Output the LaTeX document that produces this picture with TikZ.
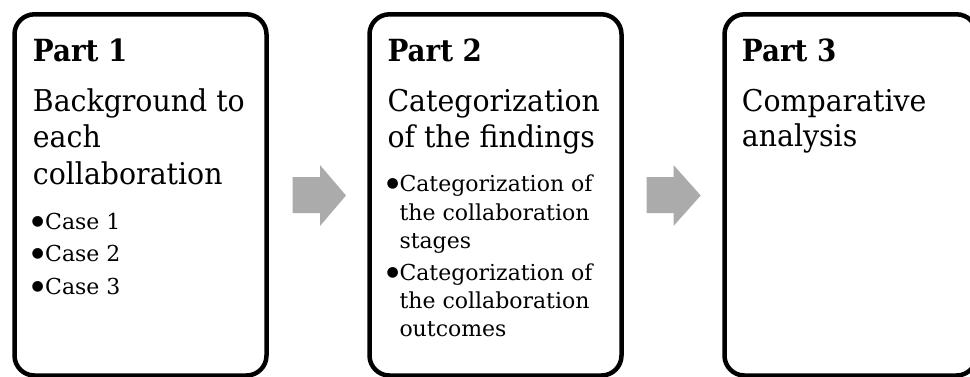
\documentclass[tikz,border=0pt]{standalone}
\usepackage{fontspec}
\setmainfont{DejaVu Serif}
\newfontfamily\bigfont{DejaVu Serif}[FakeStretch=0.946]
\newfontfamily\headfont{DejaVu Serif Bold}[FakeStretch=0.91]
\newfontfamily\symfont{DejaVu Sans}
\definecolor{arrowgray}{RGB}{171,171,171}
\newcommand{\bulletmark}[1]{\makebox[#1][l]{\raisebox{4pt}{\symfont\fontsize{14}{14}\selectfont ●}}}
\tikzset{
  panel/.style={draw=black, line width=4.5pt, rounded corners=20pt},
  flowarrow/.style={fill=arrowgray, draw=none},
  headtxt/.style={anchor=base west, inner sep=0pt, font=\headfont\fontsize{30.5}{36}\selectfont},
  bigtxt/.style={anchor=base west, inner sep=0pt, font=\bigfont\fontsize{30}{36}\selectfont},
  smalltxt/.style={anchor=base west, inner sep=0pt, font=\fontsize{22}{26}\selectfont},
}
\begin{document}
\begin{tikzpicture}[x=1pt,y=-1pt]
\useasboundingbox (0,0) rectangle (970,376);
% panels
\draw[panel] (14.5,14.3) rectangle (266.5,375.5);
\draw[panel] (369.5,14.3) rectangle (621.5,375.5);
\draw[panel] (724.5,14.3) rectangle (976.5,375.5);
% arrows
\fill[flowarrow] (292.7,177) -- (320,177) -- (320,165) -- (346,195.5) -- (320,226) -- (320,213) -- (292.7,213) -- cycle;
\fill[flowarrow] (646.7,177) -- (673.5,177) -- (673.5,165) -- (700.7,195.5) -- (673.5,226) -- (673.5,213) -- (646.7,213) -- cycle;
% Part 1
\node[headtxt] (h1) at (32.7,61.5) {Part 1};
\node[bigtxt] (a1) at (32.7,111.7) {Background to};
\node[bigtxt] (a2) at (32.7,147.5) {each};
\node[bigtxt] (a3) at (32.7,184.3) {collaboration};
\node[smalltxt] (c1) at (31.5,229) {\bulletmark{13.5pt}Case 1};
\node[smalltxt] (c2) at (31.5,261.7) {\bulletmark{13.5pt}Case 2};
\node[smalltxt] (c3) at (31.5,294) {\bulletmark{13.5pt}Case 3};
% Part 2
\node[headtxt] (h2) at (387.3,61.5) {Part 2};
\node[bigtxt] (d1) at (387.3,111.7) {Categorization};
\node[bigtxt] (d2) at (387.3,147.5) {of the findings};
\node[smalltxt] (f1) at (386.3,191.7) {\bulletmark{13pt}Categorization of};
\node[smalltxt] (f2) at (399.3,220) {the collaboration};
\node[smalltxt] (f3) at (399.3,248.3) {stages};
\node[smalltxt] (g1) at (386.3,280) {\bulletmark{13pt}Categorization of};
\node[smalltxt] (g2) at (399.3,308.3) {the collaboration};
\node[smalltxt] (g3) at (399.3,336.7) {outcomes};
% Part 3
\node[headtxt] (h3) at (741.7,61.5) {Part 3};
\node[bigtxt] (k1) at (741.7,111.7) {Comparative};
\node[bigtxt] (k2) at (741.7,146.7) {analysis};
\end{tikzpicture}
\end{document}
